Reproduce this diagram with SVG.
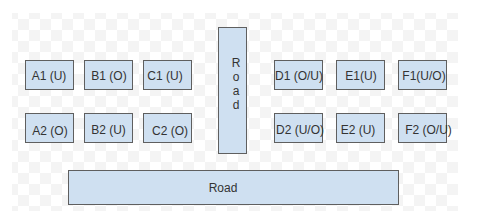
<svg xmlns="http://www.w3.org/2000/svg" width="479" height="211" viewBox="0 0 479 211">
<defs>
<pattern id="chk" x="7" y="8" width="22" height="22" patternUnits="userSpaceOnUse">
<rect x="0" y="0" width="11" height="11" fill="#f4f4f4"/>
<rect x="11" y="11" width="11" height="11" fill="#f4f4f4"/>
</pattern>
<style>
.box{fill:#cfe0f1;stroke:#5f5f5f;stroke-width:1}
.t{font-family:"Liberation Sans",Arial,sans-serif;font-size:12px;fill:#333;text-anchor:middle}
</style>
</defs>
<rect width="479" height="211" fill="#fff"/>
<rect x="12" y="13" width="446" height="198" fill="url(#chk)"/>
<g id="connectors"/>
<g id="A1"><rect class="box" x="25.5" y="60.5" width="48" height="29"/><text class="t" x="49" y="80">A1 (U)</text></g>
<g id="B1"><rect class="box" x="84.5" y="60.5" width="48" height="29"/><text class="t" x="109" y="80">B1 (O)</text></g>
<g id="C1"><rect class="box" x="143.5" y="60.5" width="48" height="29"/><text class="t" x="165" y="80">C1 (U)</text></g>
<g id="RoadV"><rect class="box" x="218.5" y="27.5" width="28" height="126"/>
<text class="t" x="236" y="67">R</text><text class="t" x="236" y="81">o</text><text class="t" x="236" y="95">a</text><text class="t" x="236" y="109">d</text></g>
<g id="D1"><rect class="box" x="274.5" y="60.5" width="48" height="29"/><text class="t" x="299" y="80">D1 (O/U)</text></g>
<g id="E1"><rect class="box" x="336.5" y="60.5" width="48" height="29"/><text class="t" x="361" y="80">E1(U)</text></g>
<g id="F1"><rect class="box" x="398.5" y="60.5" width="48" height="29"/><text class="t" x="424" y="80">F1(U/O)</text></g>
<g id="A2"><rect class="box" x="25.5" y="113.5" width="48" height="29"/><text class="t" x="50" y="135">A2 (O)</text></g>
<g id="B2"><rect class="box" x="84.5" y="113.5" width="48" height="29"/><text class="t" x="108.5" y="134">B2 (U)</text></g>
<g id="C2"><rect class="box" x="143.5" y="113.5" width="48" height="29"/><text class="t" x="170" y="135">C2 (O)</text></g>
<g id="D2"><rect class="box" x="274.5" y="113.5" width="48" height="29"/><text class="t" x="300" y="134">D2 (U/O)</text></g>
<g id="E2"><rect class="box" x="336.5" y="113.5" width="48" height="29"/><text class="t" x="358" y="134">E2 (U)</text></g>
<g id="F2"><rect class="box" x="398.5" y="113.5" width="48" height="29"/><text class="t" x="428.5" y="134">F2 (O/U)</text></g>
<g id="RoadH"><rect class="box" x="68.5" y="170.5" width="330" height="34"/><text class="t" x="223" y="192">Road</text></g>
</svg>
